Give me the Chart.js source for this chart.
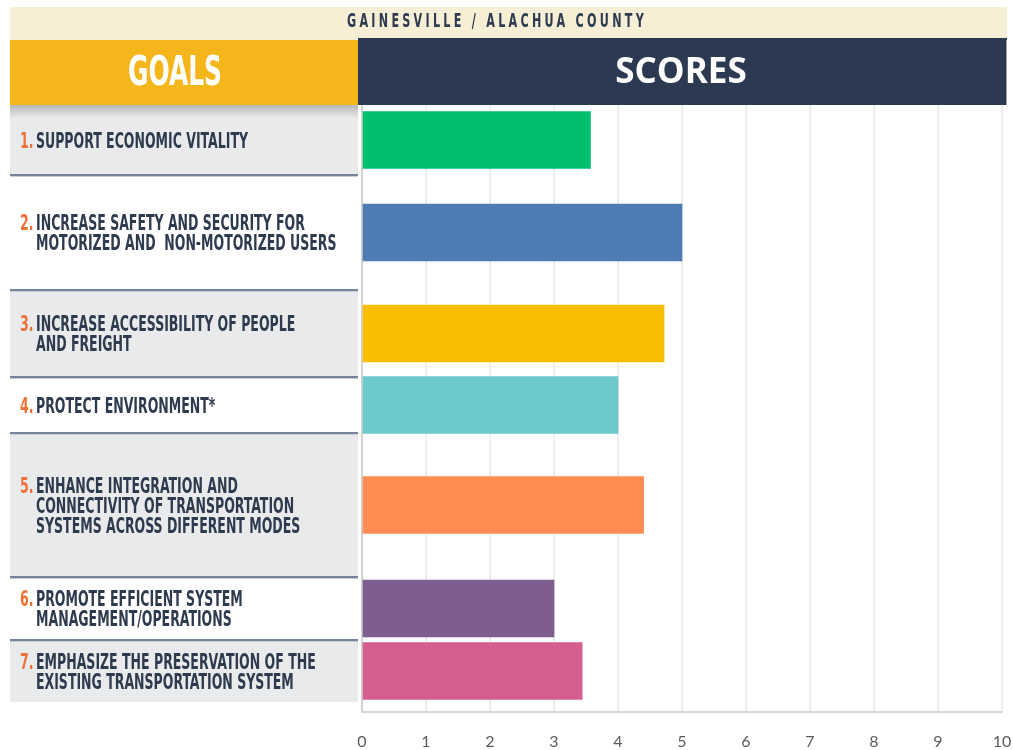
<!DOCTYPE html>
<html>
<head>
<meta charset="utf-8">
<script src="https://cdn.jsdelivr.net/npm/chart.js@4.4.1/dist/chart.umd.min.js"></script>
<style>
  html, body { margin: 0; padding: 0; background: #fff; }
  canvas { display: block; }
</style>
</head>
<body>
<canvas id="goalsChart" width="1013" height="750"></canvas>
<script>
const title = 'GAINESVILLE / ALACHUA COUNTY';
const leftHeader = 'GOALS';
const rightHeader = 'SCORES';
const goals = [
  ['SUPPORT ECONOMIC VITALITY'],
  ['INCREASE SAFETY AND SECURITY FOR', 'MOTORIZED AND  NON-MOTORIZED USERS'],
  ['INCREASE ACCESSIBILITY OF PEOPLE', 'AND FREIGHT'],
  ['PROTECT ENVIRONMENT*'],
  ['ENHANCE INTEGRATION AND', 'CONNECTIVITY OF TRANSPORTATION', 'SYSTEMS ACROSS DIFFERENT MODES'],
  ['PROMOTE EFFICIENT SYSTEM', 'MANAGEMENT/OPERATIONS'],
  ['EMPHASIZE THE PRESERVATION OF THE', 'EXISTING TRANSPORTATION SYSTEM']
];
const scores = [3.57, 5.0, 4.72, 4.0, 4.4, 3.0, 3.44];
const barColors = ['#00bf6f', '#4e7bb4', '#f9be00', '#6ccacd', '#ff8c52', '#7d5e8f', '#d45f8e'];

// heights of the goal boxes, in y-axis units (1 unit = 1px here)
const rowHeights = [70, 115, 87, 56, 144, 63, 62];
const bottomGap = 10;

const rowEdges = [0];
rowHeights.forEach(h => rowEdges.push(rowEdges[rowEdges.length - 1] + h));
const rowCenters = rowHeights.map((h, i) => rowEdges[i] + h / 2);

const FONT = '"Liberation Sans Narrow", "DejaVu Sans Condensed", Roboto, sans-serif';

function squeezed(ctx, text, x, y, sx, align) {
  ctx.save();
  ctx.translate(x, y);
  ctx.scale(sx, 1);
  ctx.textAlign = align || 'left';
  ctx.fillText(text, 0, 0);
  ctx.restore();
}

const panelPlugin = {
  id: 'panel',
  beforeDraw(chart) {
    const ctx = chart.ctx;
    const y = chart.scales.y;
    ctx.save();
    ctx.fillStyle = '#fff';
    ctx.fillRect(0, 0, chart.width, chart.height);

    // title band
    ctx.fillStyle = '#f6efd6';
    ctx.fillRect(10, 7, 997, 33);
    ctx.fillStyle = '#2e3b4f';
    ctx.font = 'bold 19px ' + FONT;
    ctx.letterSpacing = '5px';
    ctx.textBaseline = 'alphabetic';
    let w = ctx.measureText(title).width;
    squeezed(ctx, title, 495 + 2, 27, 300 / w, 'center');
    ctx.letterSpacing = '0px';

    // headers
    ctx.fillStyle = '#f4b61b';
    ctx.fillRect(10, 40, 348, 65);
    ctx.fillStyle = '#2b3a51';
    ctx.fillRect(358, 38, 649, 67);
    ctx.fillStyle = '#9aa2ac';
    ctx.fillRect(1006, 40, 1, 65);
    ctx.fillStyle = '#fff';
    ctx.font = 'bold 41px ' + FONT;
    w = ctx.measureText(leftHeader).width;
    squeezed(ctx, leftHeader, 175, 85, 94 / w, 'center');
    ctx.font = 'bold 35px "Open Sans", sans-serif';
    ctx.textAlign = 'center';
    ctx.fillText(rightHeader, 681, 83);

    // goal rows
    ctx.font = 'bold 21px ' + FONT;
    const sx = 212 / ctx.measureText(goals[0][0]).width;
    goals.forEach((lines, i) => {
      const top = y.getPixelForValue(rowEdges[i]);
      const bot = y.getPixelForValue(rowEdges[i + 1]);
      ctx.fillStyle = i % 2 === 0 ? '#e9eaec' : '#ffffff';
      ctx.fillRect(10, top, 348, bot - top);
      const mid = y.getPixelForValue(rowCenters[i]);
      const y0 = mid - (lines.length - 1) * 10 + 7.5;
      ctx.fillStyle = '#ee7137';
      squeezed(ctx, (i + 1) + '.', 20, y0, sx, 'left');
      ctx.fillStyle = '#2e3b4f';
      lines.forEach((line, k) => squeezed(ctx, line, 36, y0 + k * 20, sx, 'left'));
    });
    // separators
    for (let i = 1; i < goals.length; i++) {
      const p = Math.round(y.getPixelForValue(rowEdges[i]));
      ctx.fillStyle = '#c9cfd6';
      ctx.fillRect(10, p + 1, 348, 1);
      ctx.fillStyle = '#76849a';
      ctx.fillRect(10, p - 1, 348, 2);
    }
    // shadow under GOALS
    const g = ctx.createLinearGradient(0, 105, 0, 118);
    g.addColorStop(0, 'rgba(0,0,0,0.22)');
    g.addColorStop(1, 'rgba(0,0,0,0)');
    ctx.fillStyle = g;
    ctx.fillRect(10, 105, 348, 13);
    ctx.restore();
  }
};

new Chart(document.getElementById('goalsChart'), {
  type: 'bar',
  data: {
    datasets: [{
      data: scores.map((s, i) => ({ x: s, y: rowCenters[i] })),
      backgroundColor: barColors,
      borderWidth: 0,
      barThickness: 57
    }]
  },
  options: {
    indexAxis: 'y',
    responsive: false,
    animation: false,
    devicePixelRatio: 1,
    layout: { padding: { left: 362, right: 11, top: 105, bottom: 0 } },
    plugins: { legend: { display: false }, tooltip: { enabled: false } },
    scales: {
      x: {
        type: 'linear',
        min: 0,
        max: 10,
        ticks: { stepSize: 1, padding: 20, color: '#5c5c5c', font: { family: 'Lato', size: 16 } },
        grid: {
          drawTicks: false,
          lineWidth: 2,
          color: c => c.tick && c.tick.value === 0 ? '#d2d2d2' : '#eeeeee'
        },
        border: { display: true, color: '#d8d8d8', width: 2 },
        afterFit: s => { s.height = 38; s.paddingLeft = 0; s.paddingRight = 0; }
      },
      y: {
        type: 'linear',
        display: false,
        offset: false,
        reverse: true,
        min: 0,
        max: rowEdges[rowEdges.length - 1] + bottomGap
      }
    }
  },
  plugins: [panelPlugin]
});
</script>
</body>
</html>
